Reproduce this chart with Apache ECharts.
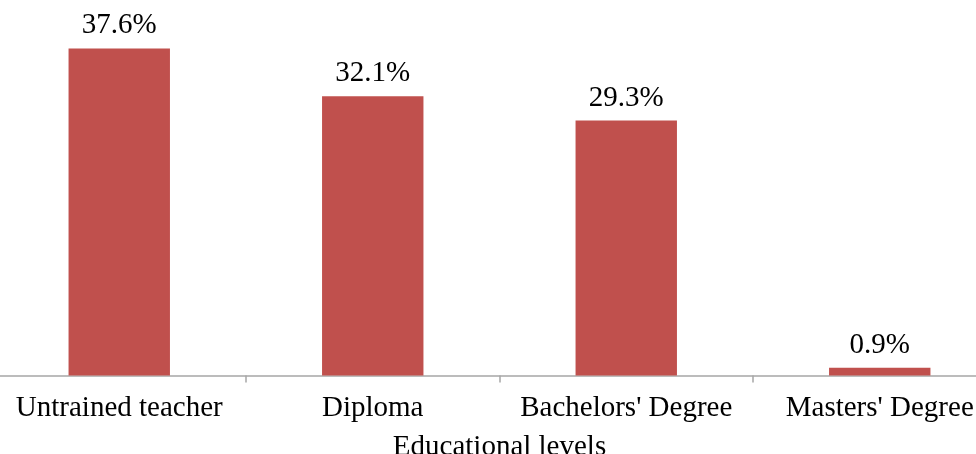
<!DOCTYPE html>
<html>
<head>
<meta charset="utf-8">
<script src="https://cdn.jsdelivr.net/npm/echarts@6/dist/echarts.min.js"></script>
<style>
html,body{margin:0;padding:0;background:#fff;}
#chart{width:976px;height:454px;}
</style>
</head>
<body>
<div id="chart"></div>
<script>
const categories = ["Untrained teacher", "Diploma", "Bachelors' Degree", "Masters' Degree"];
const values = [37.6, 32.1, 29.3, 0.9];
const axisName = "Educational levels";

const chart = echarts.init(document.getElementById('chart'), null, {renderer: 'canvas'});
const font = "'Liberation Serif', 'Times New Roman', serif";
chart.setOption({
  animation: false,
  grid: {left: -7.5, right: -30.5, top: 27.5, bottom: 78.5, containLabel: false, outerBoundsMode: 'none'},
  xAxis: {
    type: 'category',
    data: categories,
    name: axisName,
    nameLocation: 'middle',
    nameGap: 57,
    nameTextStyle: {fontFamily: font, fontSize: 29, color: '#000'},
    axisLine: {lineStyle: {color: '#a6a6a6', width: 1.5}},
    axisTick: {show: true, length: 7, lineStyle: {color: '#a6a6a6', width: 1.5}},
    axisLabel: {fontFamily: font, fontSize: 29, color: '#000', margin: 18, interval: 0, hideOverlap: false}
  },
  yAxis: {
    type: 'value', min: 0, max: 40, show: false,
    splitLine: {show: false}
  },
  series: [{
    type: 'bar',
    data: values,
    barWidth: '40%',
    itemStyle: {color: '#C0504D'},
    label: {
      show: true, position: 'top', distance: 8,
      fontFamily: font, fontSize: 29, color: '#000',
      formatter: p => p.value.toFixed(1) + '%'
    }
  }]
});
</script>
</body>
</html>
